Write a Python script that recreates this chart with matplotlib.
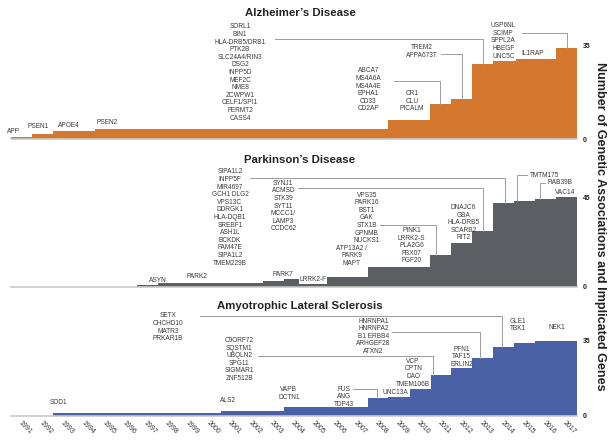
"""Cumulative genetic associations for three neurodegenerative diseases."""

import numpy as np
import matplotlib.pyplot as plt

plt.rcParams["font.family"] = ["Liberation Sans", "DejaVu Sans"]

# ---------------------------------------------------------------------------
# Data
# ---------------------------------------------------------------------------

years = np.arange(1991, 2018)

alzheimers = [1, 2, 3, 3, 4, 4, 4, 4, 4, 4, 4, 4, 4, 4, 4, 4, 4, 4,
              7, 7, 13, 15, 28, 29, 30, 30, 34]
parkinsons = [0, 0, 0, 0, 0, 0, 1, 2, 2, 2, 2, 2, 3, 4, 4, 5, 5, 10,
              10, 10, 16, 22, 28, 42, 43, 44, 45]
als = [0, 0, 1, 1, 1, 1, 1, 1, 1, 1, 2, 2, 2, 4, 4, 4, 4, 8,
       9, 13, 19, 22, 27, 32, 34, 35, 35]

titles = ["Alzheimer\u2019s Disease", "Parkinson\u2019s Disease",
          "Amyotrophic Lateral Sclerosis"]
colors = ["#D4772F", "#5B5F63", "#4A62A5"]
y_label = "Number of Genetic Associations and Implicated Genes"

# gene labels: (text, x, y, boxed) in data units of each panel
alz_genes = [
    ("APP", 1990.61, 2.8, False),
    ("PSEN1", 1991.79, 4.7, False),
    ("APOE4", 1993.27, 5.1, False),
    ("PSEN2", 1995.09, 6.3, False),
    ("SORL1\nBIN1\nHLA-DRB5/DRB1\nPTK2B\nSLC24A4/RIN3\nDSG2\nINPP5D\nMEF2C"
     "\nNME8\nZCWPW1\nCELF1/SPI1\nFERMT2\nCASS4", 2001.42, 24.8, False),
    ("ABCA7\nMS4A6A\nMS4A4E\nEPHA1\nCD33\nCD2AP", 2007.54, 18.4, False),
    ("CR1\nCLU\nPICALM", 2009.61, 14.1, False),
    ("TREM2\nAPPA673T", 2010.08, 32.7, False),
    ("USP6NL\nSCIMP\nSPPL2A\nHBEGF", 2013.98, 38.0, False),
    ("UNC5C", 2014.0, 30.6, True),
    ("IL1RAP", 2015.37, 32.0, False),
]
pd_genes = [
    ("ASYN", 1997.5, 3.0, False),
    ("PARK2", 1999.35, 5.0, False),
    ("PARK7", 2003.47, 5.9, False),
    ("LRRK2-F", 2004.9, 3.6, True),
    ("SIPA1L2\nINPP5F\nMIR4697\nGCH1 DLG2\nVPS13C\nDDRGK1\nHLA-DQB1"
     "\nSREBF1\nASH1L\nBCKDK\nFAM47E\nSIPA1L2\nTMEM229B", 2000.94, 34.8, False),
    ("SYNJ1\nACMSD\nSTK39\nSYT11\nMCCC1/\nLAMP3\nCCDC62", 2003.48, 40.6, False),
    ("ATP13A2 /\nPARK9\nMAPT", 2006.74, 15.5, False),
    ("VPS35\nPARK16\nBST1\nGAK\nSTX1B\nGPNMB\nNUCKS1", 2007.46, 34.6, False),
    ("PINK1\nLRRK2-S\nPLA2G6\nFBX07\nFGF20", 2009.61, 20.6, False),
    ("DNAJC6\nGBA\nHLA-DRB5\nSCARB2\nRIT2", 2012.07, 32.2, False),
    ("TMTM175", 2015.97, 56.2, False),
    ("RAB39B", 2016.69, 52.3, False),
    ("VAC14", 2016.92, 47.3, False),
]
als_genes = [
    ("SOD1", 1992.75, 6.0, False),
    ("SETX\nCHCHD10\nMATR3\nPRKAR1B", 1997.99, 41.3, False),
    ("C9ORF72\nSQSTM1\nUBQLN2\nSPG11\nSIGMAR1\nZNF512B", 2001.38, 26.2, False),
    ("ALS2", 2000.82, 7.25, False),
    ("VAPB\nDCTN1", 2003.75, 10.4, False),
    ("FUS\nANG\nTDP43", 2006.39, 8.75, False),
    ("UNC13A", 2008.85, 10.7, True),
    ("VCP\nOPTN\nDAO\nTMEM106B", 2009.68, 20.0, True),
    ("HNRNPA1\nHNRNPA2\nB1 ERBB4\nARHGEF28\nATXN2", 2007.78, 37.1, False),
    ("PFN1\nTAF15\nERLIN2", 2011.99, 27.5, False),
    ("GLE1\nTBK1", 2014.69, 42.3, False),
    ("NEK1", 2016.52, 41.3, False),
]

# leader lines: (x start, y, x of the drop) -> drops onto the step below
alz_links = [(2003.08, 37.2, 2013.0), (2008.76, 21.5, 2010.95),
             (2011.0, 31.7, 2012.0), (2014.85, 39.4, 2017.0)]
pd_links = [(2001.89, 54.6, 2014.05), (2004.18, 49.5, 2013.0),
            (2008.09, 31.05, 2010.77), (2015.09, 56.2, 2014.61),
            (2015.97, 52.3, 2015.73)]
als_links = [(1999.51, 46.6, 2013.9), (2002.29, 27.85, 2010.64),
             (2006.82, 12.3, 2007.97), (2008.65, 39.2, 2012.87)]


# ---------------------------------------------------------------------------
# Plot
# ---------------------------------------------------------------------------


def draw_panel(ax, values, color, ymax, ytop, genes, links, show_years):
    edges = np.append(years - 0.5, years[-1] + 0.5)
    ax.stairs(values, edges, fill=True, color=color, lw=0, zorder=2)
    ax.set_xlim(edges[0], edges[-1])
    ax.set_ylim(0, ymax)

    for side in ["top", "left", "right"]:
        ax.spines[side].set_visible(False)
    ax.spines["bottom"].set_color("#c9c9c9")
    ax.spines["bottom"].set_linewidth(1.2)

    ax.yaxis.tick_right()
    ax.set_yticks([0, ytop])
    ax.tick_params(axis="y", length=0, pad=4, labelsize=5, labelcolor="#222222")
    for lab in ax.get_yticklabels():
        lab.set_fontweight("bold")

    ax.set_xticks(years)
    if show_years:
        ax.set_xticklabels([str(y) for y in years], rotation=-45, ha="left",
                           va="top", rotation_mode="anchor", fontsize=5,
                           color="#333333")
        ax.tick_params(axis="x", length=0, pad=2.5)
    else:
        ax.tick_params(axis="x", length=0, labelbottom=False)

    for text, x, y, boxed in genes:
        box = dict(facecolor="white", edgecolor="none", pad=0.6) if boxed else None
        ax.text(x, y, text, ha="center", va="center", fontsize=4.7,
                color="#3a3a3a", linespacing=1.12, zorder=4, bbox=box)

    for x0, y0, xv in links:
        drop = values[int(round(xv)) - years[0]]
        ax.plot([x0, xv, xv], [y0, y0, drop], color="#9c9c9c", lw=0.7,
                zorder=3, solid_joinstyle="miter")


fig = plt.figure(figsize=(6.08, 4.40), dpi=100)

W, H = 608, 440
left, width = 11.2 / W, (577.1 - 11.2) / W
# (baseline px, px per unit, ylim max, top tick)
panels = [
    (alzheimers, alz_genes, alz_links, 139.3, 2.69, 50, 35),
    (parkinsons, pd_genes, pd_links, 286.7, 1.987, 68, 45),
    (als, als_genes, als_links, 415.5, 2.137, 55, 35),
]
title_y = [13, 160, 306]

for i, (vals, genes, links, base, scale, ymax, ytop) in enumerate(panels):
    ax = fig.add_axes([left, 1 - base / H, width, ymax * scale / H])
    draw_panel(ax, vals, colors[i], ymax, ytop, genes, links, i == 2)
    fig.text(300 / W, 1 - title_y[i] / H, titles[i], ha="center",
             va="center", fontsize=8.2, fontweight="bold", color="#222222")

fig.text(600 / W, 1 - 226 / H, y_label, rotation=-90, ha="center",
         va="center", fontsize=9.1, fontweight="bold", color="#222222")

fig.savefig("out.png", dpi=100)
